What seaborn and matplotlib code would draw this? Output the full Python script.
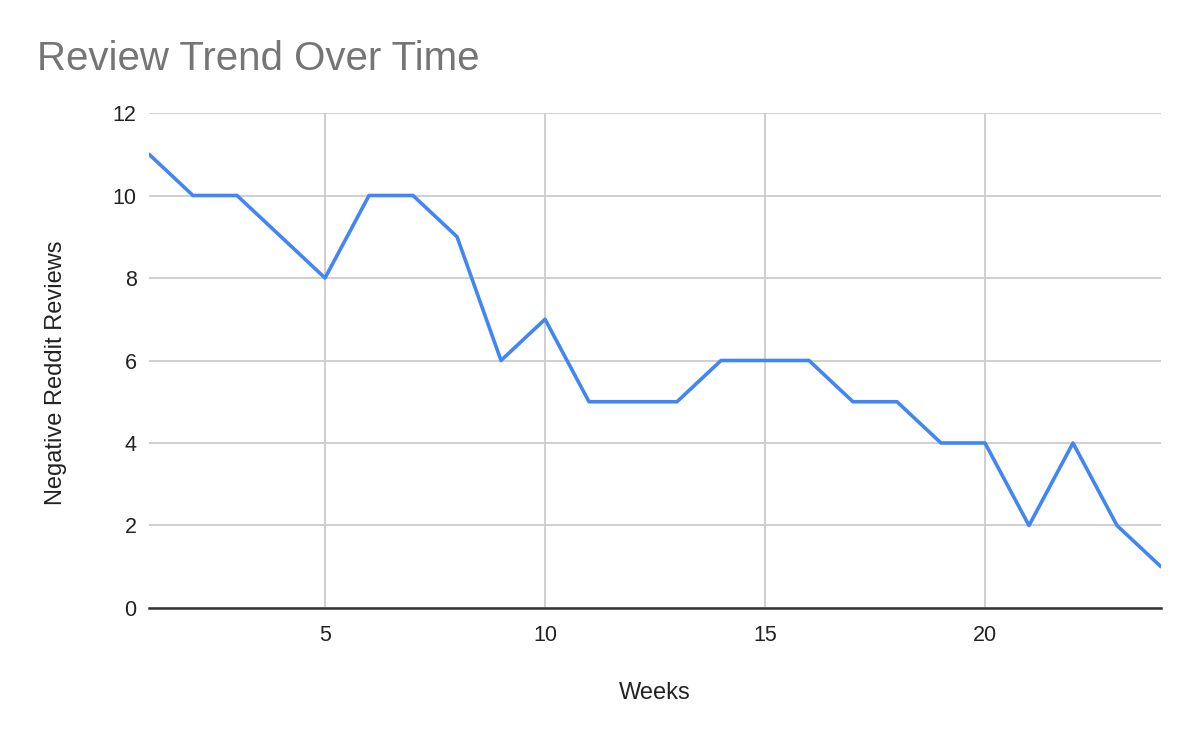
import pandas as pd
import matplotlib
matplotlib.use("Agg")
import matplotlib.pyplot as plt
import seaborn as sns

# data
weeks = list(range(1, 25))
negative_reviews = [11, 10, 10, 9, 8, 10, 10, 9, 6, 7, 5, 5,
                    5, 6, 6, 6, 5, 5, 4, 4, 2, 4, 2, 1]
x_ticks = [5, 10, 15, 20]
y_ticks = [0, 2, 4, 6, 8, 10, 12]

sns.set_theme(style="white")
plt.rcParams['font.family'] = ['Liberation Sans', 'DejaVu Sans']

df = pd.DataFrame({"week": weeks, "reviews": negative_reviews})

fig = plt.figure(figsize=(11.99, 7.42), dpi=100)
ax = fig.add_axes([0.1243, 0.1806, 0.8440, 0.6671])

sns.lineplot(data=df, x="week", y="reviews", color="#4285F4", linewidth=2.6, ax=ax)

ax.set_xlim(1, 24)
ax.set_ylim(0, 12)
ax.set_xticks(x_ticks)
ax.set_yticks(y_ticks)
ax.grid(True, color="#cccccc", linewidth=1.3)
ax.set_axisbelow(True)
ax.tick_params(axis="both", length=0, labelsize=15.5, colors="#222222")
ax.tick_params(axis="x", pad=12)
ax.tick_params(axis="y", pad=9)

for side in ["top", "right", "left"]:
    ax.spines[side].set_visible(False)
ax.spines["bottom"].set_color("#333333")
ax.spines["bottom"].set_linewidth(1.8)
ax.spines["bottom"].set_zorder(3)

ax.set_xlabel("Weeks", fontsize=17, color="#222222", labelpad=26)
ax.set_ylabel("Negative Reddit Reviews", fontsize=17, color="#222222", labelpad=33)
ax.yaxis.label.set_y(0.475)

fig.text(0.031, (742 - 70) / 742, "Review Trend Over Time", fontsize=29,
         color="#757575", va="baseline")

fig.savefig("out.png", dpi=100, facecolor="white")
plt.close(fig)
